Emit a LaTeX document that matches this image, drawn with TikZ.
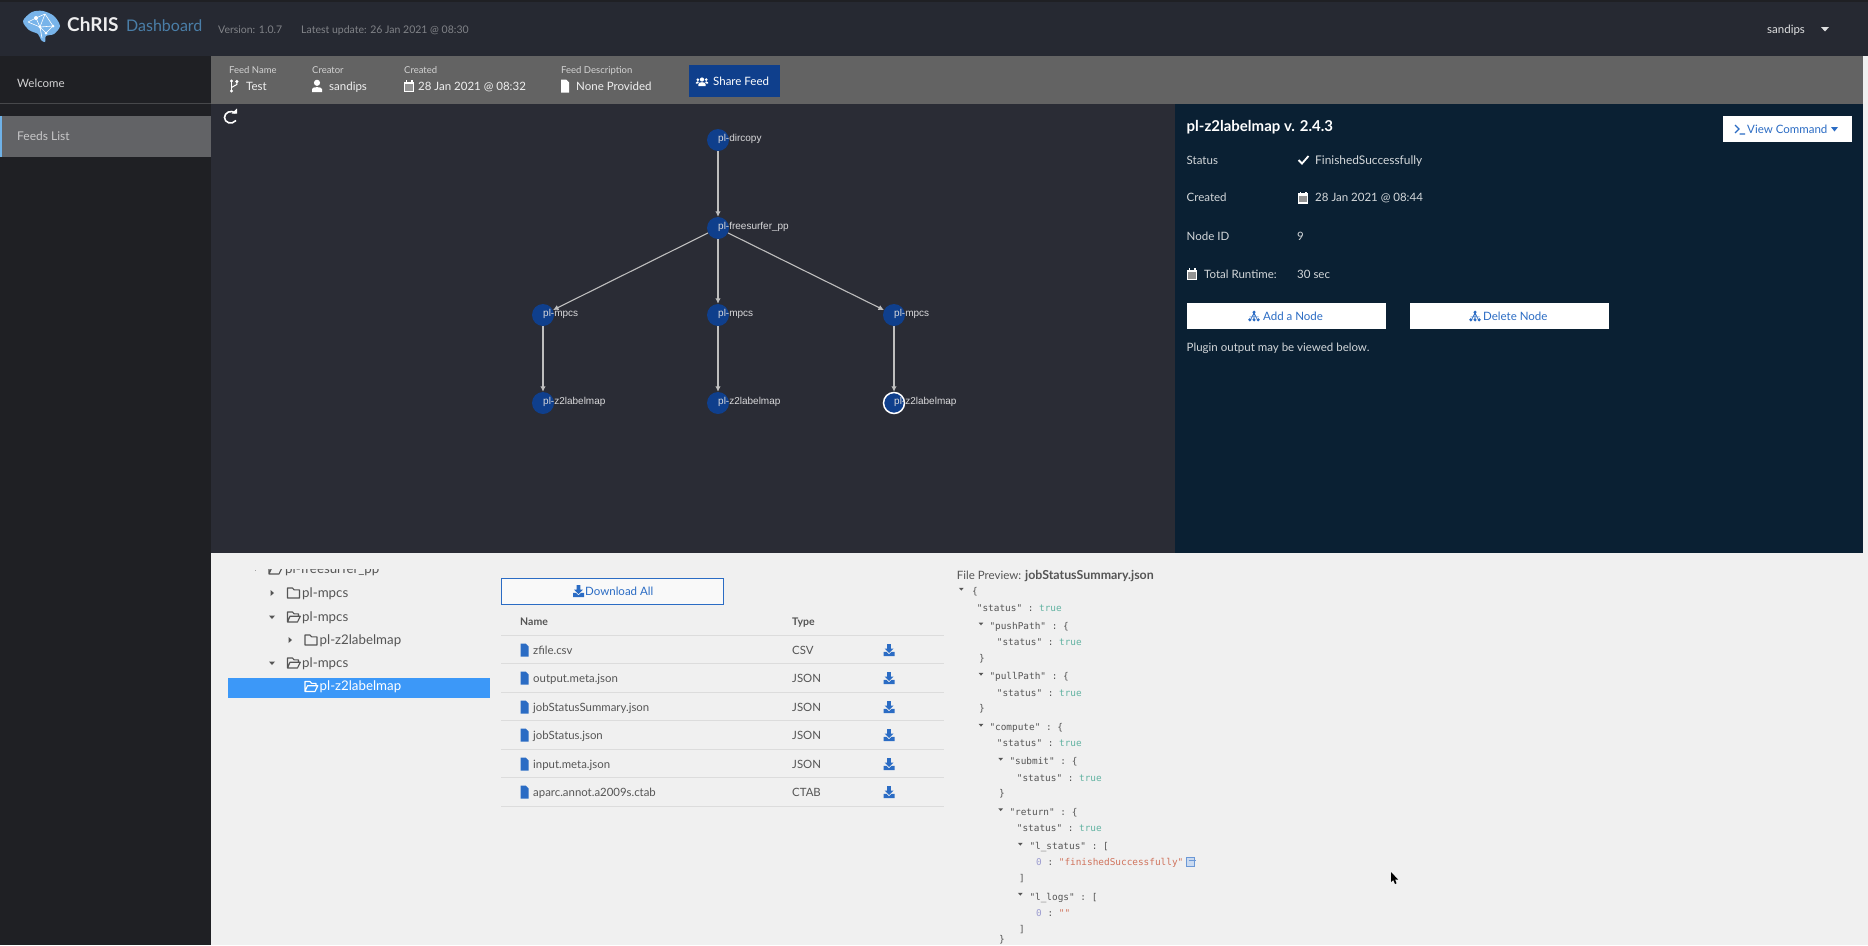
\documentclass[tikz,border=0pt]{standalone}
\usepackage{fontspec}
\setmainfont{Lato}
\setmonofont{DejaVu Sans Mono}
\newfontfamily\graphfont{Liberation Sans}
\usetikzlibrary{arrows.meta}
\newcommand{\fsz}[1]{\fontsize{#1}{#1}\selectfont}
\definecolor{headbg}{HTML}{262932}
\definecolor{sidebg}{HTML}{1F2024}
\definecolor{barbg}{HTML}{636363}
\definecolor{graphbg}{HTML}{2A2C35}
\definecolor{panelbg}{HTML}{0A2033}
\definecolor{lowerbg}{HTML}{F0F0F0}
\definecolor{nodeblue}{HTML}{0F3F8C}
\definecolor{linkblue}{HTML}{2B6CC4}
\definecolor{selblue}{HTML}{3C98F8}
\definecolor{edgegrey}{HTML}{BEBEBE}
\definecolor{rowline}{HTML}{DCDCDC}
\definecolor{darktxt}{HTML}{555555}
\definecolor{jtrue}{HTML}{62B3A2}
\definecolor{jstr}{HTML}{D0735C}
\definecolor{jnum}{HTML}{9C9CD0}
\definecolor{brandblue}{HTML}{4A7EA8}
\definecolor{brainblue}{HTML}{78B4EA}
\definecolor{stripblue}{HTML}{6FB2E8}
\tikzset{
  txt/.style={inner sep=0pt, anchor=base west, yshift=-4pt},
  headtxt/.style={txt, font=\fsz{10.5}, text=white!42!headbg},
  sidetxt/.style={txt, font=\fsz{11.5}, text=white!80!sidebg},
  smalltxt/.style={txt, font=\fsz{9.5}, text=white!72!barbg},
  valtxt/.style={txt, font=\fsz{11.5}, text=white!90!barbg},
  paneltxt/.style={txt, font=\fsz{11.5}, text=white!82!panelbg},
  btntxt/.style={txt, font=\fsz{11.5}, text=linkblue},
  treetxt/.style={txt, font=\fsz{13.3}, text=darktxt},
  tabletxt/.style={txt, font=\fsz{11.4}, text=darktxt},
  jsontxt/.style={txt, font=\ttfamily\fsz{9.4}, text=darktxt},
  plugin/.style={circle, fill=nodeblue, minimum size=22pt, inner sep=0pt},
  pluginsel/.style={plugin, draw=white, line width=1.5pt, minimum size=21pt},
  pluginlabel/.style={txt, font=\graphfont\fsz{10}, text=white!82!graphbg},
  edge/.style={draw=edgegrey, line width=1.1pt, -{Latex[length=5.5pt,width=5.5pt]}},
  pics/dlicon/.style={code={
    \fill (-1.8,-6) -- (1.8,-6) -- (1.8,-1.5) -- (4.5,-1.5) -- (0,3) -- (-4.5,-1.5) -- (-1.8,-1.5) -- cycle;
    \fill (-5.5,1.8) -- (-2.5,1.8) -- (0,4.3) -- (2.5,1.8) -- (5.5,1.8) -- (5.5,6) -- (-5.5,6) -- cycle;
  }},
  pics/fileicon/.style={code={
    \fill (-4,-6.5) -- (1.2,-6.5) -- (4,-3.7) -- (4,6.5) -- (-4,6.5) -- cycle;
  }},
  pics/closedfolder/.style={code={
    \draw[line width=1.1pt, line join=round] (-6,-5) -- (-1,-5) -- (0.5,-3.2) -- (6,-3.2) -- (6,5) -- (-6,5) -- cycle;
  }},
  pics/openfolder/.style={code={
    \draw[line width=1.1pt, line join=round] (-6,5) -- (-6,-5) -- (-1,-5) -- (0.5,-3.2) -- (5,-3.2) -- (5,-0.8) -- (-3.5,-0.8) -- (-6,5) -- (4,5) -- (6.8,-0.8) -- (5,-0.8);
  }},
  pics/chevright/.style={code={\fill (-1.5,-3) -- (2,0) -- (-1.5,3) -- cycle;}},
  pics/chevdown/.style={code={\fill (-3,-1.5) -- (3,-1.5) -- (0,2) -- cycle;}},
  pics/calicon/.style={code={
    \fill (-5,-4.5) rectangle (5,6);
    \fill (-3.5,-6) rectangle (-2,-3.5);
    \fill (2,-6) rectangle (3.5,-3.5);
    \fill[black!60, opacity=0.7] (-3.6,-1.6) rectangle (3.6,4.6);
  }},
  pics/usericon/.style={code={
    \fill (0,-3.2) circle (3.1pt);
    \fill (-5,6) -- (-5,3) .. controls (-5,0.5) and (5,0.5) .. (5,3) -- (5,6) -- cycle;
  }},
  pics/branchicon/.style={code={
    \draw[line width=1pt] (-2.5,-4.5) -- (-2.5,4.5);
    \draw[line width=1pt] (2.8,-4) -- (2.8,-1.5) -- (-2.5,1.5);
    \fill (-2.5,-5) circle (1.7pt);
    \fill (-2.5,5) circle (1.7pt);
    \fill (2.8,-4.5) circle (1.7pt);
  }},
  pics/usersicon/.style={code={
    \fill (0,-1.5) circle (2.1pt);
    \fill (-3.6,5) -- (-3.6,3) .. controls (-3.6,0.6) and (3.6,0.6) .. (3.6,3) -- (3.6,5) -- cycle;
    \fill (-4.2,-1.3) circle (1.5pt);
    \fill (4.2,-1.3) circle (1.5pt);
    \fill (-6.2,2.6) -- (-6.2,1.6) .. controls (-6.2,0) and (-3,0) .. (-3,1) -- (-4.5,2.6) -- cycle;
    \fill (6.2,2.6) -- (6.2,1.6) .. controls (6.2,0) and (3,0) .. (3,1) -- (4.5,2.6) -- cycle;
  }},
  pics/treeicon/.style={code={
    \draw[line width=0.6pt] (0,-3.5) -- (-3.2,3.5) (0,-3.5) -- (3.2,3.5) (-4.5,0.8) -- (4.5,0.8) (0,-3.5) -- (0,3.5);
    \fill (0,-3.8) circle (1.7pt);
    \fill (-4.2,3.8) circle (1.7pt);
    \fill (0,3.8) circle (1.7pt);
    \fill (4.2,3.8) circle (1.7pt);
  }},
}
\begin{document}
\begin{tikzpicture}[x=1pt, y=-1pt]
\useasboundingbox (0,0) rectangle (1868,945);
\fill[sidebg] (0,0) rectangle (1868,945);
\fill[headbg] (0,2) rectangle (1868,56);
\fill[lowerbg] (211,553) rectangle (1868,945);
\fill[lowerbg] (1863,56) rectangle (1868,553);
\fill[graphbg] (211,104) rectangle (1175,553);
\fill[panelbg] (1175,104) rectangle (1863,553);
\fill[barbg] (211,56) rectangle (1863,104);
\draw[white!18!sidebg, line width=1pt] (0,103.5) -- (211,103.5);
\fill[white!30!sidebg] (0,116) rectangle (211,157);
\fill[stripblue] (0,116) rectangle (2,157);

\fill[brainblue] plot[smooth cycle] coordinates {(23,21) (32,12) (43,11) (54,16) (60,26) (54,34) (46,36) (45,42) (41,40) (38,34) (29,30)};
\draw[white, line width=0.6pt] (28,22) -- (36,18) -- (45,14) -- (53,26) -- (46,33) -- (40,27) -- (36,18) (28,22) -- (40,27) -- (53,26) (45,14) -- (40,27) (40,27) -- (42,38);
\fill[white] (36,18) circle (2pt);
\fill[white] (40,27) circle (1.5pt);
\fill[white] (46,33) circle (1.5pt);
\fill[white] (53,26) circle (1.5pt);
\node[txt, font=\bfseries\fsz{19}, text=white!92!headbg] (brandName) at (67,27) {ChRIS};
\node[txt, font=\fsz{16}, text=brandblue] (brandSub) at (126,27) {Dashboard};
\node[headtxt] (versionText) at (218,29) {Version: 1.0.7};
\node[headtxt] (updateText) at (301,29) {Latest update: 26 Jan 2021 @ 08:30};
\node[txt, font=\fsz{11.5}, text=white!85!headbg] (userName) at (1767,29) {sandips};
\fill[white!85!headbg] (1821,27) -- (1829,27) -- (1825,31.5) -- cycle;

\node[sidetxt] (welcomeItem) at (17,83) {Welcome};
\node[sidetxt, font=\fsz{12}, text=white!75!sidebg] (feedsItem) at (17,136) {Feeds List};

\node[smalltxt] (feedNameHead) at (229,69) {Feed Name};
\node[smalltxt] (creatorHead) at (312,69) {Creator};
\node[smalltxt] (createdHead) at (404,69) {Created};
\node[smalltxt] (descHead) at (561,69) {Feed Description};
\pic[color=white] at (234,86) {branchicon};
\node[valtxt] (feedNameVal) at (246,86) {Test};
\pic[color=white] at (317,86) {usericon};
\node[valtxt] (creatorVal) at (329,86) {sandips};
\pic[color=white] at (409,86) {calicon};
\node[valtxt] (createdVal) at (418,86) {28 Jan 2021 @ 08:32};
\pic[color=white] at (565,86) {fileicon};
\node[valtxt] (descVal) at (576,86) {None Provided};
\fill[nodeblue] (689,65) rectangle (780,97);
\pic[color=white] at (702,81) {usersicon};
\node[valtxt, text=white] (shareBtn) at (713,81) {Share Feed};

\draw[white, line width=1.6pt] (235.5,113) .. controls (231,109.5) and (224.5,112.5) .. (224.5,117.5) .. controls (224.5,122.5) and (231.5,125.5) .. (236,120.5);
\fill[white] (231.5,113.5) -- (237,113.5) -- (237,108.5) -- cycle;

\node[plugin] (dircopy) at (718,140) {};
\node[plugin] (freesurfer) at (718,228) {};
\node[plugin] (mpcsA) at (543,315) {};
\node[plugin] (mpcsB) at (718,315) {};
\node[plugin] (mpcsC) at (894,315) {};
\node[plugin] (labelA) at (543,403) {};
\node[plugin] (labelB) at (718,403) {};
\node[pluginsel] (labelC) at (894,403) {};
\draw[edge] (dircopy) -- (freesurfer);
\draw[edge] (freesurfer) -- (mpcsA);
\draw[edge] (freesurfer) -- (mpcsB);
\draw[edge] (freesurfer) -- (mpcsC);
\draw[edge] (mpcsA) -- (labelA);
\draw[edge] (mpcsB) -- (labelB);
\draw[edge] (mpcsC) -- (labelC);
\node[pluginlabel] (dircopyLabel) at (718,137) {pl-dircopy};
\node[pluginlabel] (freesurferLabel) at (718,225) {pl-freesurfer\_pp};
\node[pluginlabel] (mpcsALabel) at (543,312) {pl-mpcs};
\node[pluginlabel] (mpcsBLabel) at (718,312) {pl-mpcs};
\node[pluginlabel] (mpcsCLabel) at (894,312) {pl-mpcs};
\node[pluginlabel] (labelALabel) at (543,400) {pl-z2labelmap};
\node[pluginlabel] (labelBLabel) at (718,400) {pl-z2labelmap};
\node[pluginlabel] (labelCLabel) at (894,400) {pl-z2labelmap};

\node[txt, font=\bfseries\fsz{15}, text=white] (pluginTitle) at (1186.5,127.5) {pl-z2labelmap v. 2.4.3};
\fill[white] (1722.5,116) rectangle (1851.6,142);
\draw[linkblue, line width=1.1pt] (1735,125) -- (1739,129) -- (1735,133) (1739.5,134) -- (1745,134);
\node[btntxt] (viewCmd) at (1747,129) {View Command};
\fill[linkblue] (1831,127) -- (1838,127) -- (1834.5,131.5) -- cycle;
\node[paneltxt] (statusKey) at (1186.5,160) {Status};
\draw[white, line width=1.8pt] (1298.5,160) -- (1302,163.5) -- (1308.5,156);
\node[paneltxt, font=\fsz{11.9}] (statusVal) at (1315,160) {FinishedSuccessfully};
\node[paneltxt] (createdKey) at (1186.5,197.5) {Created};
\pic[color=white] at (1303,197.5) {calicon};
\node[paneltxt] (createdPanel) at (1315,197.5) {28 Jan 2021 @ 08:44};
\node[paneltxt] (nodeIdKey) at (1186.5,236) {Node ID};
\node[paneltxt] (nodeIdVal) at (1297,236) {9};
\pic[color=white] at (1192,274) {calicon};
\node[paneltxt] (runtimeKey) at (1204,274) {Total Runtime:};
\node[paneltxt] (runtimeVal) at (1297,274) {30 sec};
\fill[white] (1186.5,303) rectangle (1386,329);
\fill[white] (1409.5,303) rectangle (1608.5,329);
\pic[color=linkblue] at (1254,316) {treeicon};
\node[btntxt] (addNode) at (1263,316) {Add a Node};
\pic[color=linkblue] at (1475,316) {treeicon};
\node[btntxt] (deleteNode) at (1483,316) {Delete Node};
\node[paneltxt] (outputNote) at (1186.5,347) {Plugin output may be viewed below.};

\begin{scope}
\clip (228,569) rectangle (490,600);
\pic[color=darktxt] at (275,569) {openfolder};
\node[treetxt] (treeRoot) at (285,569) {pl-freesurfer\_pp};
\end{scope}
\fill[darktxt!50!lowerbg] (254.5,569.5) rectangle (256,571);
\pic[color=darktxt] at (272,593) {chevright};
\pic[color=darktxt] at (293.5,593) {closedfolder};
\node[treetxt] (treeMpcsA) at (302,593) {pl-mpcs};
\pic[color=darktxt] at (272,617) {chevdown};
\pic[color=darktxt] at (293.5,617) {openfolder};
\node[treetxt] (treeMpcsB) at (302,617) {pl-mpcs};
\pic[color=darktxt] at (290,640) {chevright};
\pic[color=darktxt] at (311,640) {closedfolder};
\node[treetxt] (treeLabelB) at (319.5,640) {pl-z2labelmap};
\pic[color=darktxt] at (272,663) {chevdown};
\pic[color=darktxt] at (293.5,663) {openfolder};
\node[treetxt] (treeMpcsC) at (302,663) {pl-mpcs};
\fill[selblue] (228.4,677.7) rectangle (490,698);
\pic[color=white] at (311,686.5) {openfolder};
\node[treetxt, text=white] (treeLabelC) at (319.5,686.5) {pl-z2labelmap};

\draw[linkblue, fill=white!60!lowerbg, line width=0.9pt] (501,578) rectangle (723,604);
\pic[color=linkblue] at (578.5,591) {dlicon};
\node[btntxt] (downloadAll) at (585,591) {Download All};
\node[tabletxt, font=\bfseries\fsz{10.5}] (nameHead) at (520,621) {Name};
\node[tabletxt, font=\bfseries\fsz{10.5}] (typeHead) at (792,621) {Type};
\draw[rowline] (501,635) -- (944,635);
\draw[rowline] (501,663.5) -- (944,663.5);
\draw[rowline] (501,692) -- (944,692);
\draw[rowline] (501,720.5) -- (944,720.5);
\draw[rowline] (501,749) -- (944,749);
\draw[rowline] (501,777.5) -- (944,777.5);
\draw[rowline] (501,806) -- (944,806);
\pic[color=linkblue] at (524.5,650) {fileicon};
\node[tabletxt] (fileA) at (533,650) {zfile.csv};
\node[tabletxt] (typeA) at (792,650) {CSV};
\pic[color=linkblue] at (889,650) {dlicon};
\pic[color=linkblue] at (524.5,678) {fileicon};
\node[tabletxt] (fileB) at (533,678) {output.meta.json};
\node[tabletxt] (typeB) at (792,678) {JSON};
\pic[color=linkblue] at (889,678) {dlicon};
\pic[color=linkblue] at (524.5,707) {fileicon};
\node[tabletxt] (fileC) at (533,707) {jobStatusSummary.json};
\node[tabletxt] (typeC) at (792,707) {JSON};
\pic[color=linkblue] at (889,707) {dlicon};
\pic[color=linkblue] at (524.5,735) {fileicon};
\node[tabletxt] (fileD) at (533,735) {jobStatus.json};
\node[tabletxt] (typeD) at (792,735) {JSON};
\pic[color=linkblue] at (889,735) {dlicon};
\pic[color=linkblue] at (524.5,764) {fileicon};
\node[tabletxt] (fileE) at (533,764) {input.meta.json};
\node[tabletxt] (typeE) at (792,764) {JSON};
\pic[color=linkblue] at (889,764) {dlicon};
\pic[color=linkblue] at (524.5,792) {fileicon};
\node[tabletxt] (fileF) at (533,792) {aparc.annot.a2009s.ctab};
\node[tabletxt] (typeF) at (792,792) {CTAB};
\pic[color=linkblue] at (889,792) {dlicon};

\node[tabletxt, font=\fsz{11.5}] (previewHead) at (956.7,575) {File Preview: {\fsz{12.4}\textbf{jobStatusSummary.json}}};
\pic[color=darktxt, scale=0.8] at (961.3,589) {chevdown};
\node[jsontxt] (jsonOpen) at (972,590.7) {\{};
\node[jsontxt] (jsonStatus) at (976.7,607) {"status" : \textcolor{jtrue}{true}};
\pic[color=darktxt, scale=0.8] at (981,623.7) {chevdown};
\node[jsontxt] (jsonPush) at (989.3,625.3) {"pushPath" : \{};
\node[jsontxt] (jsonPushStatus) at (996.7,641.7) {"status" : \textcolor{jtrue}{true}};
\node[jsontxt] (jsonPushEnd) at (979,657.3) {\}};
\pic[color=darktxt, scale=0.8] at (981,674) {chevdown};
\node[jsontxt] (jsonPull) at (989.3,675.7) {"pullPath" : \{};
\node[jsontxt] (jsonPullStatus) at (996.7,692) {"status" : \textcolor{jtrue}{true}};
\node[jsontxt] (jsonPullEnd) at (979,707.7) {\}};
\pic[color=darktxt, scale=0.8] at (981,725) {chevdown};
\node[jsontxt] (jsonCompute) at (989.3,726.7) {"compute" : \{};
\node[jsontxt] (jsonComputeStatus) at (996.7,742.7) {"status" : \textcolor{jtrue}{true}};
\pic[color=darktxt, scale=0.8] at (1000.7,759) {chevdown};
\node[jsontxt] (jsonSubmit) at (1009.3,760.7) {"submit" : \{};
\node[jsontxt] (jsonSubmitStatus) at (1016.7,777) {"status" : \textcolor{jtrue}{true}};
\node[jsontxt] (jsonSubmitEnd) at (999,792.7) {\}};
\pic[color=darktxt, scale=0.8] at (1000.7,809.5) {chevdown};
\node[jsontxt] (jsonReturn) at (1009.3,811) {"return" : \{};
\node[jsontxt] (jsonReturnStatus) at (1016.7,827.3) {"status" : \textcolor{jtrue}{true}};
\pic[color=darktxt, scale=0.8] at (1020.3,844) {chevdown};
\node[jsontxt] (jsonLStatus) at (1029.3,845.7) {"l\_status" : [};
\node[jsontxt] (jsonLStatusVal) at (1036,861.7) {\textcolor{jnum}{0} : \textcolor{jstr}{"finishedSuccessfully"}};
\node[jsontxt] (jsonLStatusEnd) at (1019,877.7) {]};
\pic[color=darktxt, scale=0.8] at (1020.3,894) {chevdown};
\node[jsontxt] (jsonLLogs) at (1029.3,896) {"l\_logs" : [};
\node[jsontxt] (jsonLLogsVal) at (1036,912.3) {\textcolor{jnum}{0} : \textcolor{jstr}{""}};
\node[jsontxt] (jsonLLogsEnd) at (1019,928.3) {]};
\node[jsontxt] (jsonReturnEnd) at (999,938.5) {\}};
\draw[linkblue!70!white, fill=linkblue!25!white, line width=0.8pt] (1186,857) rectangle (1194,866);
\draw[linkblue!70!white, line width=0.8pt] (1188.5,860.5) -- (1196,860.5);

\fill[black] (1391,872) -- (1391,882) -- (1393.3,880) -- (1395,884) -- (1396.5,883.3) -- (1395,879.5) -- (1398,879.5) -- cycle;

\end{tikzpicture}
\end{document}
